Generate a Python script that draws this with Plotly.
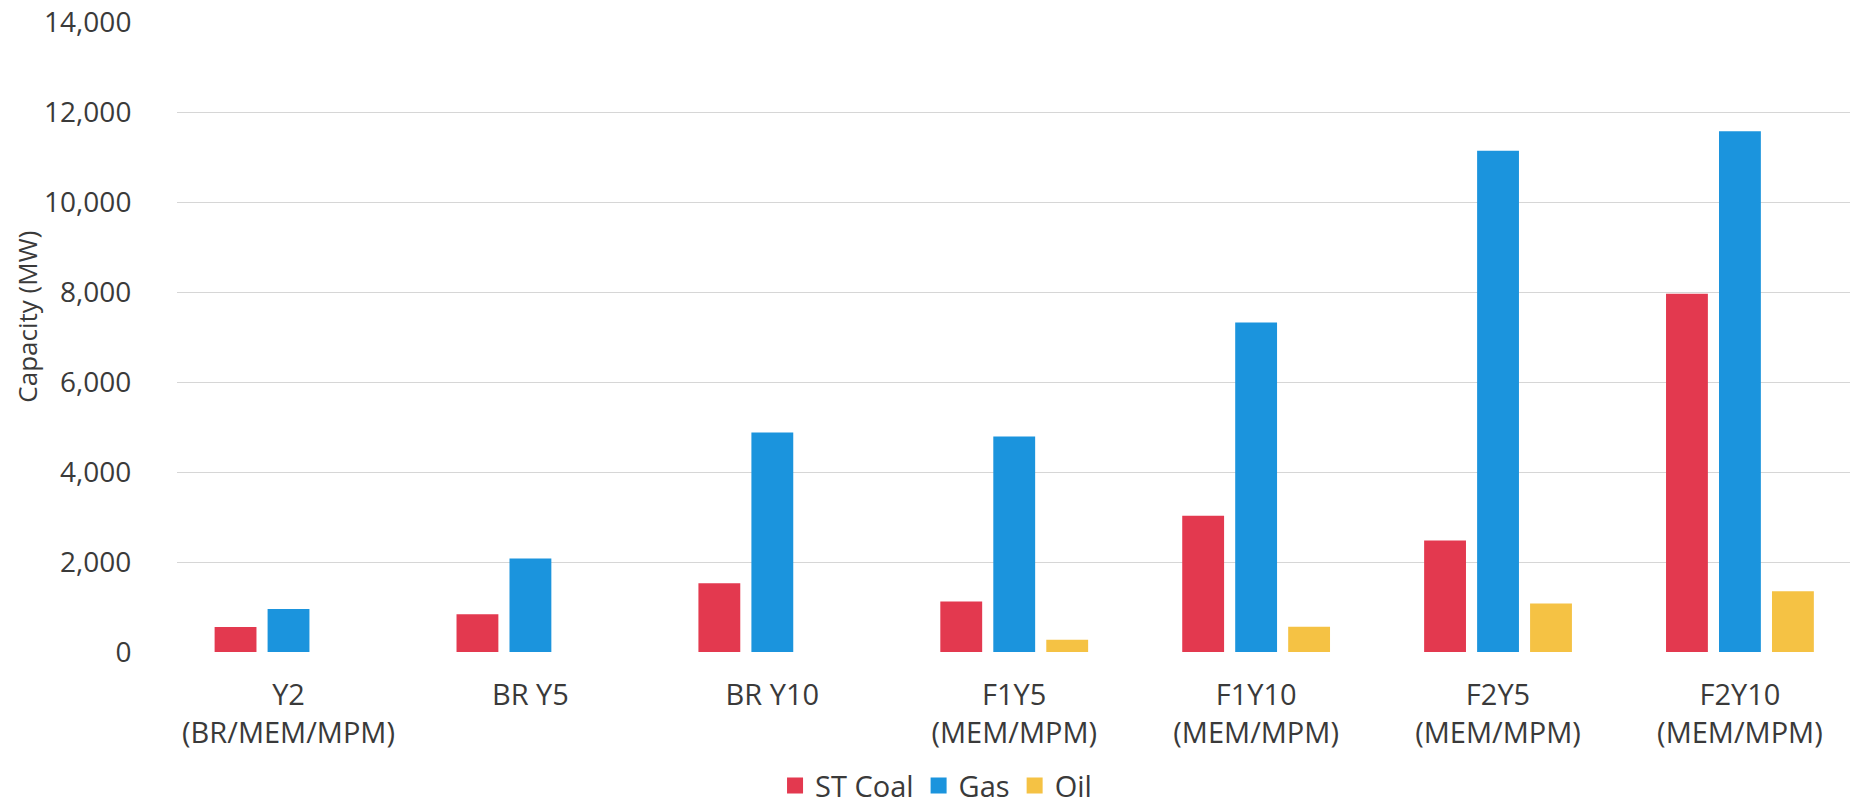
import plotly.graph_objects as go

# Installed capacity by fuel type for each scenario (MW)
categories = [
    "Y2<br>(BR/MEM/MPM)",
    "BR Y5",
    "BR Y10",
    "F1Y5<br>(MEM/MPM)",
    "F1Y10<br>(MEM/MPM)",
    "F2Y5<br>(MEM/MPM)",
    "F2Y10<br>(MEM/MPM)",
]
st_coal = [555, 840, 1530, 1120, 3030, 2480, 7960]
gas = [955, 2080, 4880, 4790, 7320, 11140, 11570]
oil = [None, None, None, 270, 560, 1080, 1350]

y_ticks = [0, 2000, 4000, 6000, 8000, 10000, 12000, 14000]

series = [
    ("ST Coal", st_coal, "#E3394F"),
    ("Gas", gas, "#1B94DD"),
    ("Oil", oil, "#F5C244"),
]

FONT = "Open Sans"
TEXT = "#3a3a3a"

fig = go.Figure()
for name, vals, color in series:
    fig.add_trace(go.Bar(
        x=categories, y=vals, name=name,
        marker=dict(color=color, line=dict(width=0)),
        showlegend=False,
    ))
# legend keys drawn as larger squares
for name, vals, color in series:
    fig.add_trace(go.Scatter(
        x=[None], y=[None], mode="markers", name=name,
        marker=dict(symbol="square", size=17, color=color),
        showlegend=True,
    ))

fig.update_layout(
    width=1850, height=805,
    margin=dict(l=177, r=0, t=22, b=153, autoexpand=False),
    paper_bgcolor="white", plot_bgcolor="white",
    barmode="group", bargap=0.343, bargroupgap=0.21,
    font=dict(family=FONT, size=29, color=TEXT),
    legend=dict(
        orientation="h", x=0.4537, xanchor="center",
        yref="container", y=0.024, yanchor="middle",
        font=dict(size=29, color=TEXT), itemsizing="trace",
        bgcolor="rgba(0,0,0,0)",
    ),
    annotations=[dict(
        text="Capacity (MW)", xref="paper", yref="paper",
        x=-0.0894, y=0.533, xanchor="center", yanchor="middle",
        textangle=-90, showarrow=False,
        font=dict(family=FONT, size=26, color=TEXT),
    )],
)
fig.update_xaxes(
    type="category", range=[-0.461, 6.455], automargin=False,
    showgrid=False, zeroline=False, showline=False,
    ticks="outside", ticklen=17, tickcolor="rgba(0,0,0,0)",
    tickfont=dict(size=29, color=TEXT),
)
fig.update_yaxes(
    range=[0, 14000], tickvals=y_ticks, tickformat=",d", automargin=False,
    showgrid=True, gridcolor="#d6d6d6", gridwidth=1,
    zeroline=False, showline=False,
    ticks="outside", ticklen=39, tickcolor="rgba(0,0,0,0)",
    tickfont=dict(size=28, color=TEXT),
)

fig.write_html("out.html")
